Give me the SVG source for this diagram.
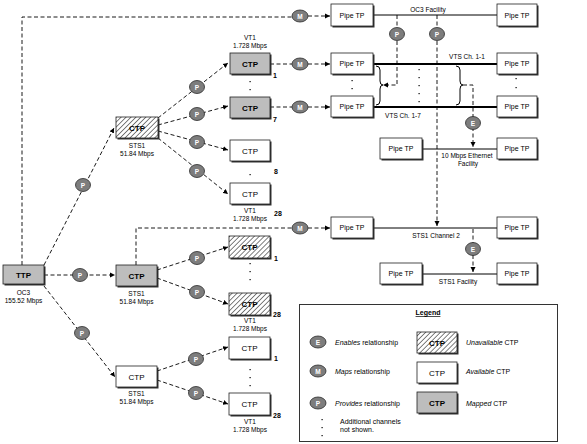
<svg xmlns="http://www.w3.org/2000/svg" width="587" height="444" viewBox="0 0 587 444">
<defs>
<pattern id="hatch" patternUnits="userSpaceOnUse" width="3.5" height="3.5" patternTransform="rotate(45)">
<rect width="3.5" height="3.5" fill="#fff"/>
<line x1="0" y1="0" x2="0" y2="3.5" stroke="#000" stroke-width="1"/>
</pattern>
<marker id="arr" markerWidth="6" markerHeight="6" refX="5" refY="3" orient="auto" markerUnits="userSpaceOnUse">
<path d="M0,0.5 L5,3 L0,5.5 Z" fill="#000"/>
</marker>
<style>
text{font-family:"Liberation Sans",Arial,sans-serif;fill:#000}
.box{stroke:#222;stroke-width:0.8}
.sh{fill:#333}
.map{fill:#bdbdbd}
.av{fill:#fff}
.un{fill:url(#hatch)}
.bt{font-size:8px;text-anchor:middle;font-weight:bold}
.nt{font-size:8px;text-anchor:middle}
.pt{font-size:7px;text-anchor:middle}
.lb{font-size:6.5px;text-anchor:middle}
.num{font-size:7px;font-weight:bold}
.d{fill:none;stroke:#000;stroke-width:0.9;stroke-dasharray:4,2.5}
.s{fill:none;stroke:#000;stroke-width:1}
.th{fill:none;stroke:#000;stroke-width:2}
.ell{fill:#7d7d7d;stroke:#2a2a2a;stroke-width:0.8}
.et{font-size:6.5px;font-weight:bold;fill:#fff;text-anchor:middle}
.dot{fill:#000}
.lg{font-size:7px}
</style>
</defs>
<rect width="587" height="444" fill="#fff"/>

<g id="connectors">
<path class="d" d="M22,265 V17 H292"/>
<path class="d" d="M308,16 H330" marker-end="url(#arr)"/>
<path class="d" d="M44,265 L114,128" marker-end="url(#arr)"/>
<path class="d" d="M44,275 H115" marker-end="url(#arr)"/>
<path class="d" d="M44,286 L115,377" marker-end="url(#arr)"/>
<path class="d" d="M158,118 L228,63" marker-end="url(#arr)"/>
<path class="d" d="M158,125 L228,106" marker-end="url(#arr)"/>
<path class="d" d="M158,131 L228,150" marker-end="url(#arr)"/>
<path class="d" d="M158,138 L228,194" marker-end="url(#arr)"/>
<path class="d" d="M270,64 H292"/>
<path class="d" d="M308,64 H330" marker-end="url(#arr)"/>
<path class="d" d="M270,107 H292"/>
<path class="d" d="M308,107 H330" marker-end="url(#arr)"/>
<path class="d" d="M136,265 V228 H292"/>
<path class="d" d="M308,228 H330" marker-end="url(#arr)"/>
<path class="d" d="M157,270 L228,247" marker-end="url(#arr)"/>
<path class="d" d="M157,278 L228,304" marker-end="url(#arr)"/>
<path class="d" d="M157,371 L228,347" marker-end="url(#arr)"/>
<path class="d" d="M157,380 L228,404" marker-end="url(#arr)"/>
<path class="s" d="M373,15 H497"/>
<path class="th" d="M373,64 H497"/>
<path class="th" d="M373,107 H497"/>
<path class="s" d="M423,149 H497"/>
<path class="s" d="M373,228 H497"/>
<path class="s" d="M423,274 H497"/>
<path class="d" d="M397,15 V85 H383" marker-end="url(#arr)"/>
<path class="d" d="M437,15 V226" marker-end="url(#arr)"/>
<path class="s" stroke-width="0.8" d="M376,66 Q380,66 380,70 V81 Q380,85 383,85 Q380,85 380,89 V101 Q380,105 376,105"/>
<path class="s" stroke-width="0.8" d="M456,66 Q460,66 460,70 V81 Q460,85 463,85 Q460,85 460,89 V101 Q460,105 456,105"/>
<path class="d" d="M463,85 H473 V147" marker-end="url(#arr)"/>
<path class="d" d="M473,229 V272" marker-end="url(#arr)"/>
</g>

<g id="relations">
<g id="m-top"><ellipse class="ell" cx="300" cy="16" rx="8" ry="6"/><text class="et" x="300" y="18.5">M</text></g>
<g id="m-vt1"><ellipse class="ell" cx="300" cy="64" rx="8" ry="6"/><text class="et" x="300" y="66.5">M</text></g>
<g id="m-vt7"><ellipse class="ell" cx="300" cy="107" rx="8" ry="6"/><text class="et" x="300" y="109.5">M</text></g>
<g id="m-sts"><ellipse class="ell" cx="300" cy="228" rx="8" ry="6"/><text class="et" x="300" y="230.5">M</text></g>
<g id="p-tts1"><ellipse class="ell" cx="83" cy="185" rx="7.5" ry="6.5"/><text class="et" x="83" y="187.5">P</text></g>
<g id="p-tts2"><ellipse class="ell" cx="80" cy="275" rx="7.5" ry="6.5"/><text class="et" x="80" y="277.5">P</text></g>
<g id="p-tts3"><ellipse class="ell" cx="82" cy="333" rx="7.5" ry="6.5"/><text class="et" x="82" y="335.5">P</text></g>
<g id="p-a1"><ellipse class="ell" cx="197" cy="87" rx="7.5" ry="6.5"/><text class="et" x="197" y="89.5">P</text></g>
<g id="p-a7"><ellipse class="ell" cx="197" cy="114" rx="7.5" ry="6.5"/><text class="et" x="197" y="116.5">P</text></g>
<g id="p-a8"><ellipse class="ell" cx="197" cy="142" rx="7.5" ry="6.5"/><text class="et" x="197" y="144.5">P</text></g>
<g id="p-a28"><ellipse class="ell" cx="197" cy="171" rx="7.5" ry="6.5"/><text class="et" x="197" y="173.5">P</text></g>
<g id="p-b1"><ellipse class="ell" cx="197" cy="258" rx="7.5" ry="6.5"/><text class="et" x="197" y="260.5">P</text></g>
<g id="p-b28"><ellipse class="ell" cx="197" cy="292" rx="7.5" ry="6.5"/><text class="et" x="197" y="294.5">P</text></g>
<g id="p-c1"><ellipse class="ell" cx="196" cy="359" rx="7.5" ry="6.5"/><text class="et" x="196" y="361.5">P</text></g>
<g id="p-c28"><ellipse class="ell" cx="196" cy="393" rx="7.5" ry="6.5"/><text class="et" x="196" y="395.5">P</text></g>
<g id="p-oc1"><ellipse class="ell" cx="397" cy="34" rx="7.5" ry="6.5"/><text class="et" x="397" y="36.5">P</text></g>
<g id="p-oc2"><ellipse class="ell" cx="437" cy="34" rx="7.5" ry="6.5"/><text class="et" x="437" y="36.5">P</text></g>
<g id="e-vts"><ellipse class="ell" cx="473" cy="123" rx="7.5" ry="6.5"/><text class="et" x="473" y="125.5">E</text></g>
<g id="e-sts"><ellipse class="ell" cx="473" cy="249" rx="7.5" ry="6.5"/><text class="et" x="473" y="251.5">E</text></g>
</g>

<g id="ttp">
<rect class="sh" x="4.5" y="266.5" width="41" height="19"/>
<rect class="box map" x="3" y="265" width="41" height="19"/>
<text class="bt" x="23.5" y="277.5">TTP</text>
<text class="lb" x="23.5" y="295">OC3</text>
<text class="lb" x="23.5" y="303">155.52 Mbps</text>
</g>

<g id="sts1-a">
<rect class="sh" x="117.5" y="118.5" width="42" height="21"/>
<rect class="box un" x="116" y="117" width="42" height="21"/>
<text class="bt" x="137" y="130.5">CTP</text>
<text class="lb" x="137" y="148">STS1</text>
<text class="lb" x="137" y="156">51.84 Mbps</text>
</g>
<g id="sts1-b">
<rect class="sh" x="117.5" y="266.5" width="41" height="21"/>
<rect class="box map" x="116" y="265" width="41" height="21"/>
<text class="bt" x="136.5" y="278.5">CTP</text>
<text class="lb" x="136.5" y="296">STS1</text>
<text class="lb" x="136.5" y="304">51.84 Mbps</text>
</g>
<g id="sts1-c">
<rect class="sh" x="117.5" y="367.5" width="41" height="21"/>
<rect class="box av" x="116" y="366" width="41" height="21"/>
<text class="nt" x="136.5" y="379.5">CTP</text>
<text class="lb" x="136.5" y="396">STS1</text>
<text class="lb" x="136.5" y="404">51.84 Mbps</text>
</g>

<g id="vt1-a1">
<text class="lb" x="250" y="40">VT1</text>
<text class="lb" x="250" y="48">1.728 Mbps</text>
<rect class="sh" x="231.5" y="54.5" width="40" height="21"/>
<rect class="box map" x="230" y="53" width="40" height="21"/>
<text class="bt" x="250" y="66.5">CTP</text>
<text class="num" x="273" y="78">1</text>
</g>
<g id="vt1-a7">
<rect class="sh" x="231.5" y="98.5" width="40" height="21"/>
<rect class="box map" x="230" y="97" width="40" height="21"/>
<text class="bt" x="250" y="110.5">CTP</text>
<text class="num" x="273" y="122">7</text>
</g>
<g id="vt1-a8">
<rect class="sh" x="231.5" y="141.5" width="40" height="21"/>
<rect class="box av" x="230" y="140" width="40" height="21"/>
<text class="nt" x="250" y="153.5">CTP</text>
<text class="num" x="274" y="174">8</text>
</g>
<g id="vt1-a28">
<rect class="sh" x="231.5" y="184.5" width="40" height="21"/>
<rect class="box av" x="230" y="183" width="40" height="21"/>
<text class="nt" x="250" y="196.5">CTP</text>
<text class="num" x="274" y="216">28</text>
<text class="lb" x="250" y="213">VT1</text>
<text class="lb" x="250" y="221">1.728 Mbps</text>
</g>
<g id="vt1-b1">
<rect class="sh" x="230.5" y="237.5" width="41" height="22"/>
<rect class="box un" x="229" y="236" width="41" height="22"/>
<text class="bt" x="249.5" y="250">CTP</text>
<text class="num" x="274" y="261">1</text>
</g>
<g id="vt1-b28">
<rect class="sh" x="230.5" y="294.5" width="41" height="22"/>
<rect class="box un" x="229" y="293" width="41" height="22"/>
<text class="bt" x="249.5" y="307">CTP</text>
<text class="num" x="273" y="317">28</text>
<text class="lb" x="250" y="323">VT1</text>
<text class="lb" x="250" y="331">1.728 Mbps</text>
</g>
<g id="vt1-c1">
<rect class="sh" x="230.5" y="338.5" width="41" height="22"/>
<rect class="box av" x="229" y="337" width="41" height="22"/>
<text class="nt" x="249.5" y="351">CTP</text>
<text class="num" x="274" y="361">1</text>
</g>
<g id="vt1-c28">
<rect class="sh" x="230.5" y="394.5" width="41" height="22"/>
<rect class="box av" x="229" y="393" width="41" height="22"/>
<text class="nt" x="249.5" y="407">CTP</text>
<text class="num" x="273" y="418">28</text>
<text class="lb" x="250" y="424">VT1</text>
<text class="lb" x="250" y="432">1.728 Mbps</text>
</g>

<g id="dots">
<rect class="dot" x="249.5" y="81" width="1.2" height="1.2"/>
<rect class="dot" x="249.5" y="89" width="1.2" height="1.2"/>
<rect class="dot" x="249.5" y="174" width="1.2" height="1.2"/>
<rect class="dot" x="249.5" y="263" width="1.2" height="1.2"/>
<rect class="dot" x="249.5" y="271" width="1.2" height="1.2"/>
<rect class="dot" x="249.5" y="279" width="1.2" height="1.2"/>
<rect class="dot" x="249.5" y="369" width="1.2" height="1.2"/>
<rect class="dot" x="249.5" y="377" width="1.2" height="1.2"/>
<rect class="dot" x="249.5" y="385" width="1.2" height="1.2"/>
<rect class="dot" x="351.5" y="80" width="1.2" height="1.2"/>
<rect class="dot" x="351.5" y="88" width="1.2" height="1.2"/>
<rect class="dot" x="515.5" y="78" width="1.2" height="1.2"/>
<rect class="dot" x="515.5" y="87" width="1.2" height="1.2"/>
<rect class="dot" x="418.5" y="69" width="1.2" height="1.2"/>
<rect class="dot" x="418.5" y="77" width="1.2" height="1.2"/>
<rect class="dot" x="418.5" y="85" width="1.2" height="1.2"/>
<rect class="dot" x="418.5" y="93" width="1.2" height="1.2"/>
<rect class="dot" x="418.5" y="101" width="1.2" height="1.2"/>
</g>

<g id="pipe-oc3-l"><rect class="sh" x="332.5" y="5.5" width="42" height="22"/><rect class="box av" x="331" y="4" width="42" height="22"/><text class="pt" x="352" y="17.5">Pipe TP</text></g>
<g id="pipe-oc3-r"><rect class="sh" x="498.5" y="5.5" width="40" height="22"/><rect class="box av" x="497" y="4" width="40" height="22"/><text class="pt" x="517" y="17.5">Pipe TP</text></g>
<g id="pipe-vts1-l"><rect class="sh" x="332.5" y="54.5" width="42" height="21"/><rect class="box av" x="331" y="53" width="42" height="21"/><text class="pt" x="352" y="66">Pipe TP</text></g>
<g id="pipe-vts1-r"><rect class="sh" x="498.5" y="54.5" width="40" height="21"/><rect class="box av" x="497" y="53" width="40" height="21"/><text class="pt" x="517" y="66">Pipe TP</text></g>
<g id="pipe-vts7-l"><rect class="sh" x="332.5" y="97.5" width="42" height="21"/><rect class="box av" x="331" y="96" width="42" height="21"/><text class="pt" x="352" y="109">Pipe TP</text></g>
<g id="pipe-vts7-r"><rect class="sh" x="498.5" y="97.5" width="40" height="21"/><rect class="box av" x="497" y="96" width="40" height="21"/><text class="pt" x="517" y="109">Pipe TP</text></g>
<g id="pipe-eth-l"><rect class="sh" x="381.5" y="139.5" width="42" height="21"/><rect class="box av" x="380" y="138" width="42" height="21"/><text class="pt" x="401" y="151">Pipe TP</text></g>
<g id="pipe-eth-r"><rect class="sh" x="498.5" y="139.5" width="40" height="21"/><rect class="box av" x="497" y="138" width="40" height="21"/><text class="pt" x="517" y="151">Pipe TP</text></g>
<g id="pipe-sts2-l"><rect class="sh" x="332.5" y="218.5" width="42" height="21"/><rect class="box av" x="331" y="217" width="42" height="21"/><text class="pt" x="352" y="230">Pipe TP</text></g>
<g id="pipe-sts2-r"><rect class="sh" x="498.5" y="218.5" width="40" height="21"/><rect class="box av" x="497" y="217" width="40" height="21"/><text class="pt" x="517" y="230">Pipe TP</text></g>
<g id="pipe-stsf-l"><rect class="sh" x="381.5" y="264.5" width="42" height="21"/><rect class="box av" x="380" y="263" width="42" height="21"/><text class="pt" x="401" y="276">Pipe TP</text></g>
<g id="pipe-stsf-r"><rect class="sh" x="498.5" y="264.5" width="40" height="21"/><rect class="box av" x="497" y="263" width="40" height="21"/><text class="pt" x="517" y="276">Pipe TP</text></g>

<g id="facility-labels">
<text class="lb" x="428" y="12">OC3 Facility</text>
<text class="lb" x="467" y="59">VTS Ch. 1-1</text>
<text class="lb" x="403" y="118">VTS Ch. 1-7</text>
<text class="lb" x="467" y="158">10 Mbps Ethernet</text>
<text class="lb" x="468" y="166">Facility</text>
<text class="lb" x="436" y="238">STS1 Channel 2</text>
<text class="lb" x="458" y="284">STS1 Facility</text>
</g>

<g id="legend">
<rect x="299.5" y="304.5" width="258" height="137" fill="#fff" stroke="#333" stroke-width="1"/>
<text x="428" y="315" font-size="7" font-weight="bold" text-anchor="middle" text-decoration="underline">Legend</text>
<ellipse class="ell" cx="318" cy="342" rx="8" ry="6"/><text class="et" x="318" y="344.5">E</text>
<text class="lg" x="335" y="344.5"><tspan font-style="italic">Enables</tspan> relationship</text>
<ellipse class="ell" cx="318" cy="371" rx="8" ry="6"/><text class="et" x="318" y="373.5">M</text>
<text class="lg" x="335" y="373.5"><tspan font-style="italic">Maps</tspan> relationship</text>
<ellipse class="ell" cx="318" cy="403" rx="8" ry="6"/><text class="et" x="318" y="405.5">P</text>
<text class="lg" x="335" y="405.5"><tspan font-style="italic">Provides</tspan> relationship</text>
<rect class="dot" x="321.5" y="419" width="1.2" height="1.2"/>
<rect class="dot" x="321.5" y="427" width="1.2" height="1.2"/>
<rect class="dot" x="321.5" y="435" width="1.2" height="1.2"/>
<text class="lg" x="340" y="424">Additional channels</text>
<text class="lg" x="340" y="432">not shown.</text>
<rect class="sh" x="418.5" y="333.5" width="40" height="21"/>
<rect class="box un" x="417" y="332" width="40" height="21"/>
<text class="bt" x="437" y="345.5">CTP</text>
<rect class="sh" x="418.5" y="363.5" width="40" height="21"/>
<rect class="box av" x="417" y="362" width="40" height="21"/>
<text class="nt" x="437" y="375.5">CTP</text>
<rect class="sh" x="418.5" y="393.5" width="40" height="21"/>
<rect class="box map" x="417" y="392" width="40" height="21"/>
<text class="bt" x="437" y="405.5">CTP</text>
<text class="lg" x="466" y="344.5"><tspan font-style="italic">Unavailable</tspan> CTP</text>
<text class="lg" x="466" y="373.5"><tspan font-style="italic">Available</tspan> CTP</text>
<text class="lg" x="466" y="405.5"><tspan font-style="italic">Mapped</tspan> CTP</text>
</g>
</svg>
